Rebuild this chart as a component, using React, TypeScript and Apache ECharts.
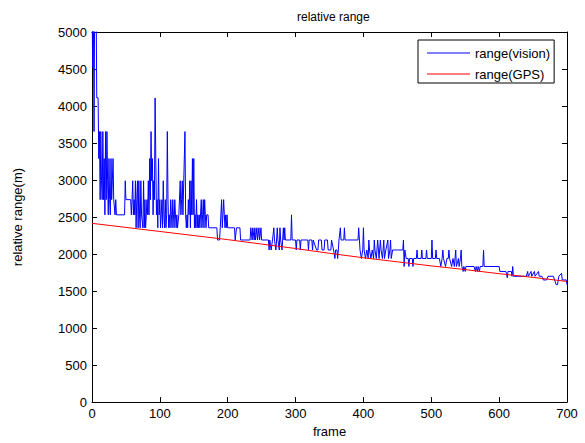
import React, { useEffect, useRef } from "react";
import * as echarts from "echarts";

const titleText = "relative range";
const xName = "frame";
const yName = "relative range(m)";
const visionName = "range(vision)";
const gpsName = "range(GPS)";

// range(vision): [frame, range]
const visionFrames = [
  0, 1, 2, 3, 4, 6, 7, 9, 10, 11, 12, 13, 14, 15, 16, 17, 18, 19, 20, 21, 22, 23, 24, 25, 26, 27, 28, 29, 30, 31, 32, 33, 34, 35, 36,
  48, 49, 50, 57, 58, 59, 60, 61, 62, 63, 64, 65, 66, 67, 68, 69, 70, 71, 72, 73, 75, 76, 77, 78, 79, 80, 81, 82, 83, 84, 85, 86, 87,
  88, 89, 90, 91, 92, 93, 94, 95, 96, 97, 98, 99, 100, 101, 102, 103, 104, 105, 106, 107, 108, 109, 110, 111, 112, 113, 114, 115, 116,
  117, 118, 119, 120, 121, 122, 123, 124, 125, 126, 128, 130, 131, 132, 133, 134, 137, 138, 139, 140, 141, 142, 143, 144, 145, 146, 147,
  148, 149, 150, 151, 152, 153, 154, 155, 156, 157, 158, 159, 161, 162, 163, 164, 165, 166, 167, 168, 169, 171, 172, 184, 185, 188, 189,
  191, 192, 193, 194, 195, 196, 197, 198, 199, 200, 210, 211, 212, 213, 218, 219, 233, 234, 236, 237, 239, 240, 241, 243, 244, 246, 247,
  249, 250, 260, 261, 262, 264, 266, 268, 269, 271, 272, 273, 274, 276, 277, 278, 280, 281, 282, 283, 284, 285, 293, 294, 295, 300, 301,
  302, 306, 307, 308, 318, 319, 320, 324, 325, 326, 331, 333, 334, 338, 339, 342, 343, 347, 348, 352, 353, 356, 358, 359, 361, 362, 363,
  364, 366, 367, 371, 372, 373, 376, 392, 393, 395, 397, 399, 400, 401, 403, 405, 407, 408, 409, 411, 413, 415, 416, 417, 419, 421, 423,
  425, 426, 428, 430, 431, 433, 436, 437, 439, 440, 441, 443, 446, 452, 458, 459, 460, 461, 463, 466, 467, 468, 472, 473, 474, 478, 479,
  480, 485, 486, 487, 492, 493, 494, 500, 501, 502, 506, 507, 508, 510, 512, 514, 516, 517, 518, 521, 523, 525, 526, 527, 530, 532, 534,
  536, 537, 540, 541, 543, 544, 545, 547, 548, 550, 551, 563, 565, 566, 568, 569, 571, 572, 576, 577, 578, 600, 601, 610, 612, 613, 618,
  619, 620, 621, 640, 642, 643, 647, 648, 652, 653, 658, 659, 663, 665, 670, 672, 680, 684, 686, 688, 692, 693, 699, 700,
];
const visionValues = [
  5500, 4520, 5500, 3655, 5500, 5500, 4110, 4110, 3290, 3655, 2735, 3655, 2990, 2735, 3655, 2735, 3290, 2530, 3655, 2735, 3655, 2990, 2530, 3290, 2735, 2530, 3290, 2735, 2990, 3290, 2735, 2735, 2530, 2735, 2530,
  2530, 2990, 2735, 2735, 2530, 2735, 2990, 2530, 2735, 2530, 2990, 2355, 2735, 2990, 2355, 2990, 2530, 2355, 2990, 2530, 2355, 2990, 2355, 2735, 2355, 2530, 2735, 2530, 2990, 2530, 3290, 2735, 3655,
  2990, 3290, 2530, 2990, 2735, 4110, 3290, 2530, 2735, 2355, 3290, 2530, 2735, 2355, 2530, 2735, 2355, 2990, 2530, 2355, 2735, 2355, 2530, 3655, 2735, 2355, 2530, 2355, 2735,
  2530, 2355, 2735, 2530, 2355, 2735, 2530, 2355, 2530, 2355, 2530, 2990, 2530, 2735, 2990, 2530, 3655, 2530, 2355, 2530, 2355, 2735, 2530, 2990, 2355, 2990, 2530,
  3290, 2530, 3290, 2355, 2530, 2355, 2735, 2355, 2530, 2355, 2530, 2355, 2735, 2355, 2530, 2735, 2355, 2735, 2530, 2355, 2530, 2530, 2355, 2355, 2190, 2190, 2355,
  2735, 2355, 2530, 2735, 2530, 2355, 2530, 2355, 2530, 2355, 2355, 2190, 2190, 2355, 2355, 2190, 2190, 2355, 2190, 2355, 2190, 2355, 2190, 2355, 2190, 2355, 2190,
  2355, 2190, 2190, 2055, 2190, 2055, 2190, 2355, 2190, 2055, 2190, 2355, 2190, 2055, 2355, 2190, 2055, 2190, 2355, 2190, 2355, 2190, 2190, 2530, 2190, 2190, 2055,
  2190, 2190, 2055, 2190, 2190, 2055, 2190, 2190, 2055, 2190, 2055, 2055, 2190, 2190, 2055, 2055, 2190, 2190, 2055, 2055, 2190, 2055, 1940, 2055, 2055, 1940, 2055,
  2190, 2355, 2190, 2190, 2355, 2190, 2190, 2190, 2355, 2055, 1940, 2055, 2355, 2055, 1940, 2055, 1940, 2190, 2055, 1940, 2055, 1940, 2190, 2055, 1940, 2190, 1940,
  2190, 2055, 1940, 2190, 1940, 2055, 2190, 1940, 2055, 2190, 1940, 2055, 2055, 2055, 2055, 2190, 1832, 2055, 1940, 1940, 1832, 1940, 1940, 1832, 1940, 1940, 2055,
  1940, 1940, 2055, 1940, 1940, 2055, 1940, 1940, 2190, 1940, 1940, 2055, 1940, 1940, 1940, 1832, 1940, 2055, 1940, 1832, 1940, 1940, 2055, 1940, 1832, 1940, 1832,
  2055, 1832, 1940, 1832, 1940, 2055, 1832, 1765, 1832, 1765, 1832, 1832, 1765, 1832, 1765, 1832, 1765, 1832, 1832, 2055, 1832, 1832, 1765, 1765, 1680, 1765, 1765,
  1700, 1832, 1700, 1700, 1765, 1700, 1765, 1700, 1765, 1700, 1765, 1700, 1700, 1650, 1650, 1700, 1700, 1586, 1586, 1700, 1740, 1650, 1650, 1586,
];

// range(GPS)
const gpsFrames = [0, 50, 100, 150, 200, 250, 300, 350, 400, 450, 500, 550, 600, 650, 700];
const gpsValues = [2415, 2360, 2305, 2250, 2195, 2135, 2075, 2010, 1950, 1895, 1840, 1790, 1735, 1685, 1630];

const xTicks = { min: 0, max: 700, interval: 100 };
const yTicks = { min: 0, max: 5000, interval: 500 };

const FONT = "Liberation Sans, Arial, sans-serif";

export default function App() {
  const ref = useRef<HTMLDivElement>(null);
  useEffect(() => {
    if (!ref.current) return;
    const chart = echarts.init(ref.current, undefined, { renderer: "svg" });
    const vision = visionFrames.map((f, i) => [f, visionValues[i]]);
    const gps = gpsFrames.map((f, i) => [f, gpsValues[i]]);
    const axisCommon = {
      axisLine: { show: true, onZero: false, lineStyle: { color: "#000", width: 1 } },
      axisTick: { show: true, inside: true, length: 5, lineStyle: { color: "#000" } },
      splitLine: { show: false },
    };
    const plainLabel = (v: number) => String(v);
    chart.setOption({
      animation: false,
      backgroundColor: "#fff",
      textStyle: { fontFamily: FONT, color: "#000" },
      title: {
        text: titleText,
        left: 292,
        top: 6,
        textStyle: { fontFamily: FONT, fontSize: 12, fontWeight: "normal", color: "#000" },
      },
      legend: {
        orient: "vertical",
        left: 418,
        top: 40,
        backgroundColor: "#fff",
        borderColor: "#000",
        borderWidth: 1,
        borderRadius: 0,
        padding: [6, 4, 2, 9],
        itemWidth: 43,
        itemHeight: 1.2,
        itemGap: 7,
        icon: "rect",
        textStyle: { fontFamily: FONT, fontSize: 13, lineHeight: 14, color: "#000" },
        data: [
          { name: visionName, icon: "rect", itemStyle: { color: "#0000ff" } },
          { name: gpsName, icon: "rect", itemStyle: { color: "#ff0000" } },
        ],
      },
      grid: { left: 92, top: 32, width: 475, height: 373, containLabel: false },
      xAxis: [
        {
          type: "value",
          ...xTicks,
          position: "bottom",
          ...axisCommon,
          axisLabel: { show: true, color: "#000", fontFamily: FONT, fontSize: 13, margin: 5, formatter: plainLabel },
          name: xName,
          nameLocation: "middle",
          nameGap: 21,
          nameTextStyle: { fontFamily: FONT, fontSize: 13, color: "#000" },
        },
        {
          type: "value",
          ...xTicks,
          position: "top",
          ...axisCommon,
          axisLabel: { show: false },
        },
      ],
      yAxis: [
        {
          type: "value",
          ...yTicks,
          position: "left",
          ...axisCommon,
          axisLabel: { show: true, color: "#000", fontFamily: FONT, fontSize: 13, margin: 5, formatter: plainLabel },
          name: yName,
          nameLocation: "middle",
          nameRotate: 90,
          nameGap: 68,
          nameTextStyle: { fontFamily: FONT, fontSize: 13, color: "#000" },
        },
        {
          type: "value",
          ...yTicks,
          position: "right",
          ...axisCommon,
          axisLabel: { show: false },
        },
      ],
      series: [
        {
          name: visionName,
          type: "line",
          data: vision,
          symbol: "none",
          clip: true,
          lineStyle: { color: "#0000ff", width: 1 },
          itemStyle: { color: "#0000ff" },
          xAxisIndex: 0,
          yAxisIndex: 0,
        },
        {
          name: gpsName,
          type: "line",
          data: gps,
          symbol: "none",
          clip: true,
          lineStyle: { color: "#ff0000", width: 1 },
          itemStyle: { color: "#ff0000" },
          xAxisIndex: 0,
          yAxisIndex: 0,
        },
      ],
    });
    return () => chart.dispose();
  }, []);
  return (
    <div
      ref={ref}
      style={{ position: "fixed", left: 0, top: 0, width: 585, height: 443, background: "#fff" }}
    />
  );
}
